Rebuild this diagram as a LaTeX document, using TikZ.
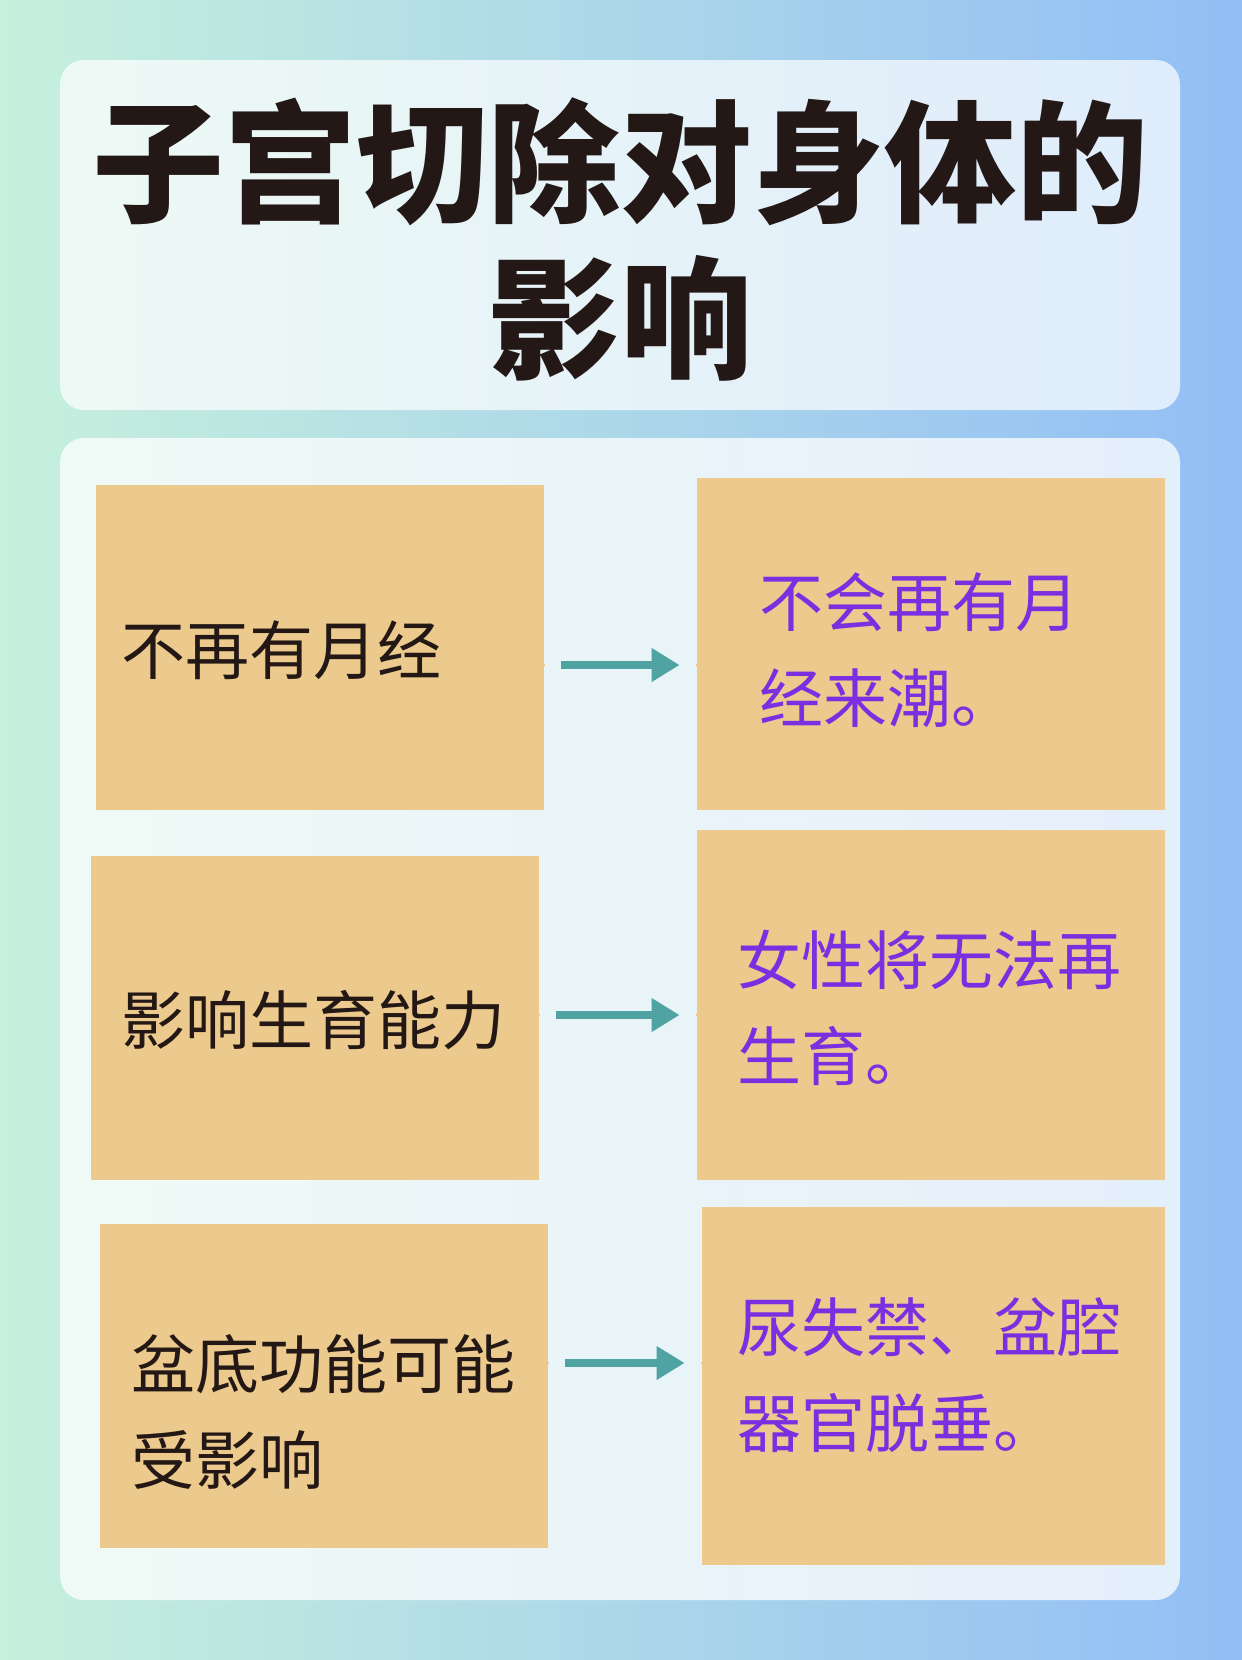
\documentclass[tikz,border=0pt]{standalone}
\usepackage{fontspec}
\setmainfont{Noto Sans CJK SC}
\usetikzlibrary{positioning,arrows.meta}
\definecolor{boxtan}{HTML}{ECC98C}
\definecolor{purp}{HTML}{7B2FE0}
\definecolor{arrteal}{HTML}{4FA3A3}
\definecolor{inkdark}{HTML}{231815}
\definecolor{bgmint}{HTML}{C6F0DC}
\definecolor{bgblue}{HTML}{92BEF6}
\tikzset{
	every picture/.style={x=0.5pt,y=-0.5pt},
	card/.style={draw=none,fill=boxtan,inner sep=0pt},
	lefttxt/.style={anchor=west,align=left,font=\fontsize{32}{48}\selectfont,text=inkdark},
	righttxt/.style={anchor=west,align=left,font=\fontsize{32}{48}\selectfont,text=purp},
	conn/.style={-{Triangle[length=14pt,width=16pt]},line width=4pt,arrteal,shorten <=8pt,shorten >=8pt}
}
\begin{document}
\begin{tikzpicture}
\useasboundingbox (0,0) rectangle (1242,1660);
\shade[left color=bgmint, right color=bgblue] (0,0) rectangle (1242,1660);
% panels
\fill[white,opacity=0.7,rounded corners=12pt] (60,60) rectangle (1180,410);
\fill[white,opacity=0.75,rounded corners=12pt] (60,438) rectangle (1180,1600);
\node[font=\bfseries\fontsize{66}{78}\selectfont,align=center,text=inkdark] (title) at (620,240) {子宫切除对身体的\\影响};
% boxes
\fill[boxtan] (96,485) rectangle (544,810);
\fill[boxtan] (697,478) rectangle (1165,810);
\fill[boxtan] (91,856) rectangle (539,1180);
\fill[boxtan] (697,830) rectangle (1165,1180);
\fill[boxtan] (100,1224) rectangle (548,1548);
\fill[boxtan] (702,1207) rectangle (1165,1565);
\node[card,minimum width=1pt] (l1) at (544,665) {};
\node[card,minimum width=1pt] (r1) at (697,665) {};
\node[card,minimum width=1pt] (l2) at (539,1015) {};
\node[card,minimum width=1pt] (r2) at (697,1015) {};
\node[card,minimum width=1pt] (l3) at (548,1363) {};
\node[card,minimum width=1pt] (r3) at (702,1363) {};
% texts
\node[lefttxt] (t1) at (114,650) {不再有月经};
\node[lefttxt] (t2) at (114,1020) {影响生育能力};
\node[lefttxt] (t3) at (124,1412) {盆底功能可能\\受影响};
\node[righttxt] (s1) at (752,650) {不会再有月\\经来潮。};
\node[righttxt] (s2) at (730,1008) {女性将无法再\\生育。};
\node[righttxt] (s3) at (730,1375) {尿失禁、盆腔\\器官脱垂。};
% arrows
\draw[conn] (l1) -- (r1);
\draw[conn] (l2) -- (r2);
\draw[conn] (l3) -- (r3);
\end{tikzpicture}
\end{document}
